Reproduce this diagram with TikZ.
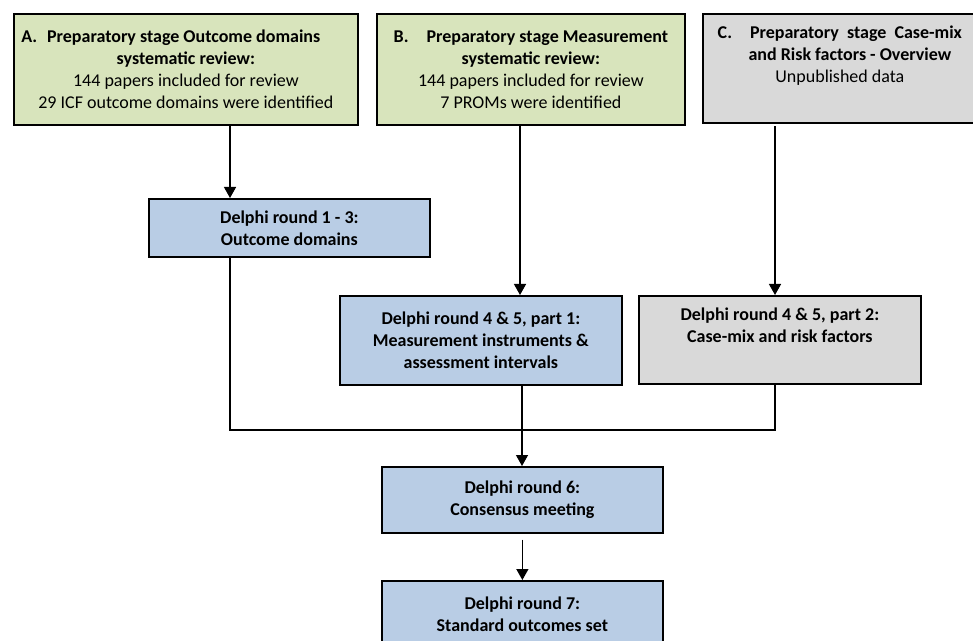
\documentclass[tikz,border=0pt]{standalone}
\usepackage{fontspec}
\setmainfont{Carlito}
\usetikzlibrary{arrows.meta}
\definecolor{prepgreen}{RGB}{216,228,188}
\definecolor{delphiblue}{RGB}{185,205,229}
\definecolor{casegray}{RGB}{217,217,217}
\begin{document}
\begin{tikzpicture}[x=0.75pt,y=-0.75pt,
  box/.style={draw=black,line width=1.3pt,rectangle,anchor=north west,inner sep=0pt,align=center,
    font=\fontsize{13.5pt}{16.5pt}\selectfont},
  link/.style={draw=black,line width=1pt},
  arr/.style={link,-{Triangle[width=9pt,length=8.25pt]}}]
\useasboundingbox (0,0) rectangle (973,641);
\clip (0,0) rectangle (973,641);
\fill[white] (0,0) rectangle (973,641);

\node[box,fill=prepgreen,minimum width=258pt,minimum height=83.25pt] (A) at (13,13)
  {\textbf{A.\hspace{0.55em}Preparatory stage Outcome domains}\hspace*{22.5pt}\\
   \textbf{systematic review:}\\
   144 papers included for review\\
   29 ICF outcome domains were identified};
\node[box,fill=prepgreen,minimum width=231pt,minimum height=83.25pt] (B) at (376,13)
  {\textbf{B.\hspace{1em}Preparatory stage Measurement}\\
   \textbf{systematic review:}\\
   144 papers included for review\\
   7 PROMs were identified};
\node[box,fill=casegray,minimum width=205.5pt,minimum height=81.75pt] (C) at (702,13)
  {\textbf{C.\hspace{1em}Preparatory\ \ stage\ \ Case-mix}\\
   \hspace*{15pt}\textbf{and Risk factors - Overview}\\
   Unpublished data\\
   \strut};
\node[box,fill=delphiblue,minimum width=210.75pt,minimum height=43.5pt] (D1) at (148,198)
  {\textbf{Delphi round 1 - 3:}\\ \textbf{Outcome domains}};
\node[box,fill=delphiblue,minimum width=211.5pt,minimum height=66.75pt] (D451) at (339,295)
  {\textbf{Delphi round 4 \& 5, part 1:}\\ \textbf{Measurement instruments \&}\\ \textbf{assessment intervals}};
\node[box,fill=casegray,minimum width=211.5pt,minimum height=66pt] (D452) at (638,295)
  {\textbf{Delphi round 4 \& 5, part 2:}\\ \textbf{Case-mix and risk factors}\\ \strut};
\node[box,fill=delphiblue,minimum width=210.75pt,minimum height=49.5pt] (D6) at (381,466)
  {\textbf{Delphi round 6:}\\ \textbf{Consensus meeting}};
\node[box,fill=delphiblue,minimum width=210.75pt,minimum height=49.5pt] (D7) at (381,580)
  {\textbf{Delphi round 7:}\\ \textbf{Standard outcomes set}};

\coordinate (a1) at (230,0);
\coordinate (b1) at (520,0);
\coordinate (c1) at (775,0);
\coordinate (j) at (522,430);

\draw[arr] (A.south -| a1) -- (D1.north -| a1);
\draw[arr] (B.south -| b1) -- (D451.north -| b1);
\draw[arr,shorten <=2pt] (C.south -| c1) -- (D452.north -| c1);
\draw[link] (D1.south -| a1) |- (j) -| (D452.south -| c1);
\draw[arr] (D451.south -| j) -- (D6.north -| j);
\draw[arr,shorten <=4.5pt] (D6.south) -- (D7.north);
\end{tikzpicture}
\end{document}
